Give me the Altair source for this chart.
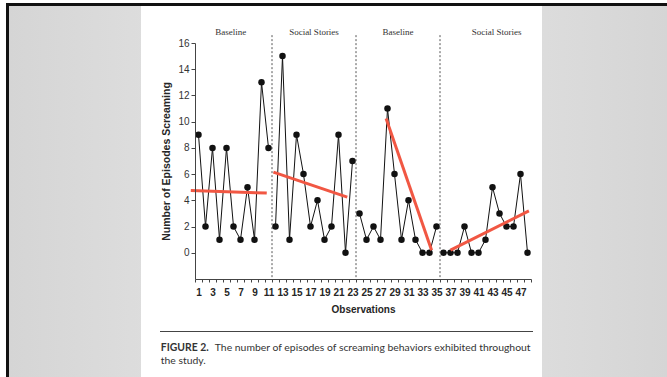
import altair as alt
import pandas as pd

# Episodes of screaming recorded at each observation, one list per phase
phase1 = [9, 2, 8, 1, 8, 2, 1, 5, 1, 13, 8]
phase2 = [2, 15, 1, 9, 6, 2, 4, 1, 2, 9, 0, 7]
phase3 = [3, 1, 2, 1, 11, 6, 1, 4, 1, 0, 0, 2]
phase4 = [0, 0, 0, 2, 0, 0, 1, 5, 3, 2, 2, 6, 0]

phase_names = ["Baseline", "Social Stories", "Baseline", "Social Stories"]
phase_label_x = [5.6, 17.5, 29.5, 43.6]
phase_breaks = [11.5, 23.5, 35.5]

# Trend line of each phase (start and end points)
trend_x1 = [-0.1, 11.7, 27.8, 37.0]
trend_y1 = [4.75, 6.15, 10.25, 0.2]
trend_x2 = [10.75, 22.25, 34.3, 48.2]
trend_y2 = [4.55, 4.25, 0.2, 3.2]

y_tick_values = [0, 2, 4, 6, 8, 10, 12, 14, 16]
x_label_values = [1, 3, 5, 7, 9, 11, 13, 15, 17, 19, 21, 23,
                  25, 27, 29, 31, 33, 35, 37, 39, 41, 43, 45, 47]
x_tick_values = [i + 0.5 for i in range(49)]

caption_bold = "FIGURE 2."
caption_line1 = "The number of episodes of screaming behaviors exhibited throughout"
caption_line2 = "the study."

# ---------------------------------------------------------------- tables
values = phase1 + phase2 + phase3 + phase4
phase_idx = ([1] * len(phase1) + [2] * len(phase2) +
             [3] * len(phase3) + [4] * len(phase4))
obs = pd.DataFrame({"obs": list(range(1, len(values) + 1)),
                    "value": values, "phase": phase_idx})
trends = pd.DataFrame({"x1": trend_x1, "y1": trend_y1,
                       "x2": trend_x2, "y2": trend_y2})
labels = pd.DataFrame({"x": phase_label_x, "name": phase_names})
breaks = pd.DataFrame({"b": phase_breaks})
one = pd.DataFrame({"k": [0]})

# ---------------------------------------------------------------- layout
W, H = 667, 377
L, T = 195, 43          # plot-area origin on the page
PW, PH = 336, 236       # plot-area size

SANS = "Liberation Sans"
SERIF = "Liberation Serif"
INK = "#262626"

xs = alt.Scale(domain=[0.5, 48.5], nice=False, zero=False)
ys = alt.Scale(domain=[-2, 16], nice=False, zero=False)


def box(x0, y0, x1, y1, color):
    """Page decoration given in page pixels."""
    return alt.Chart(one).mark_rect(color=color).encode(
        x=alt.value(x0 - L), x2=alt.value(x1 - L),
        y=alt.value(y0 - T), y2=alt.value(y1 - T))


backdrop = alt.LinearGradient(
    gradient="linear", x1=0, x2=1, y1=0, y2=0,
    stops=[alt.GradientStop(color="#d5d5d5", offset=0),
           alt.GradientStop(color="#e8e8e8", offset=0.5),
           alt.GradientStop(color="#d5d5d5", offset=1)])

frame = box(6, 3, W, H, "#111111")
slide_bg = box(9, 6, W, H, backdrop)
page = box(141, 6, 542, H, "#ffffff")

caption_rule = alt.Chart(one).mark_rule(color="#444444", strokeWidth=1.2).encode(
    x=alt.value(160 - L), x2=alt.value(533 - L), y=alt.value(331.5 - T))


def caption(txt, cx, cy, weight):
    return alt.Chart(one).mark_text(
        align="left", baseline="middle", font="Lato", fontSize=10.4,
        fontWeight=weight, color="#333333").encode(
        x=alt.value(cx - L), y=alt.value(cy - T), text=alt.value(txt))


cap1 = caption(caption_bold, 160.8, 348.3, "bold")
cap2 = caption(caption_line1, 214.8, 348.3, "normal")
cap3 = caption(caption_line2, 160.8, 360.7, "normal")

# ---------------------------------------------------------------- chart
tick_axis = alt.Axis(
    orient="bottom", values=x_tick_values, labels=False, tickSize=3,
    tickColor="#444444", domainColor="#444444", grid=False,
    title="Observations", titleFont=SANS, titleFontSize=10,
    titleFontWeight="bold", titleColor=INK, titleX=PW / 2, titleY=30,
    titleBaseline="middle", titleAlign="center", zindex=1)

label_axis = alt.Axis(
    orient="bottom", values=x_label_values, ticks=False, tickSize=0,
    domain=False, grid=False, labelPadding=8, labelFont=SANS,
    labelFontSize=10, labelFontWeight="bold", labelColor=INK,
    labelOverlap=False, labelFlush=False, labelBound=False,
    title=None, zindex=1)

y_axis = alt.Axis(
    orient="left", values=y_tick_values, tickSize=4, labelPadding=2,
    labelFont=SANS, labelFontSize=10, labelColor="#333333",
    tickColor="#444444", domainColor="#444444", grid=False,
    labelOverlap=False, labelFlush=False,
    title="Number of Episodes Screaming", titleFont=SANS,
    titleFontSize=10.5, titleFontWeight="bold", titleColor=INK,
    titleAngle=270, titleX=-29, titleY=PH / 2, titleBaseline="middle",
    titleAlign="center", zindex=1)

series = alt.Chart(obs).mark_line(color="#111111", strokeWidth=1).encode(
    x=alt.X("obs:Q", scale=xs, axis=tick_axis),
    y=alt.Y("value:Q", scale=ys, axis=y_axis),
    detail="phase:N")

dots = alt.Chart(obs).mark_circle(size=42, color="#111111", opacity=1).encode(
    x=alt.X("obs:Q", scale=xs, axis=label_axis),
    y=alt.Y("value:Q", scale=ys, axis=None))

dividers = alt.Chart(breaks).mark_rule(
    color="#555555", strokeWidth=1, strokeDash=[2, 2]).encode(
    x=alt.X("b:Q", scale=xs, axis=None),
    y=alt.YDatum(16.6, scale=ys, axis=None),
    y2=alt.Y2Datum(-2))

trend_lines = alt.Chart(trends).mark_rule(
    color="#f15743", strokeWidth=3).encode(
    x=alt.X("x1:Q", scale=xs, axis=None),
    y=alt.Y("y1:Q", scale=ys, axis=None),
    x2="x2:Q", y2="y2:Q")

phase_text = alt.Chart(labels).mark_text(
    font=SERIF, fontSize=9, color="#333333", baseline="middle").encode(
    x=alt.X("x:Q", scale=xs, axis=None),
    y=alt.value(-11.3),
    text="name:N")

chart = alt.layer(
    frame, slide_bg, page, caption_rule, cap1, cap2, cap3,
    dividers, series, dots, trend_lines, phase_text,
).resolve_axis(x="independent", y="independent").properties(
    width=PW, height=PH,
    autosize=alt.AutoSizeParams(type="none"),
    padding={"left": L, "top": T, "right": W - L - PW, "bottom": H - T - PH},
).configure_view(stroke=None).configure(background="#ffffff")

chart.save("out.html", embed_options={"renderer": "svg", "actions": False})
